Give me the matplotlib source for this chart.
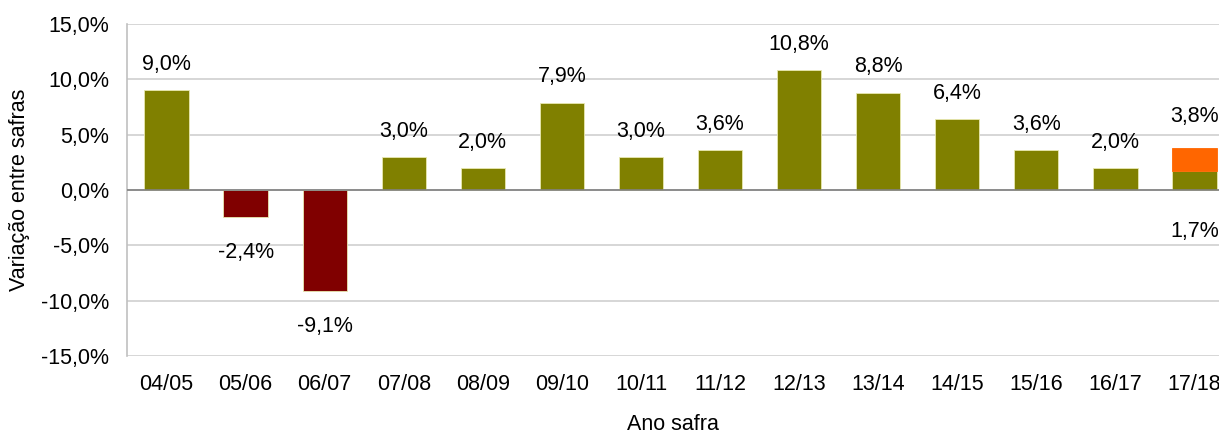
import matplotlib.pyplot as plt
import matplotlib.ticker as mticker

plt.rcParams['font.family'] = ['Liberation Sans', 'DejaVu Sans']

# data
safras = ["04/05", "05/06", "06/07", "07/08", "08/09", "09/10", "10/11",
          "11/12", "12/13", "13/14", "14/15", "15/16", "16/17", "17/18"]
variacao = [9.0, -2.4, -9.1, 3.0, 2.0, 7.9, 3.0, 3.6, 10.8, 8.8, 6.4, 3.6, 2.0, 1.7]
proj_extra = 2.1          # 17/18 upper part (1.7 -> 3.8)
proj_total = 3.8

OLIVE = "#808000"
RED = "#800000"
ORANGE = "#FF6600"
FS = 15.5

fig = plt.figure(figsize=(12.19, 4.36), dpi=100)
ax = fig.add_axes([0.1042, 0.1835, 0.8958, 0.7615])

x = list(range(len(safras)))
cores = [OLIVE if v >= 0 else RED for v in variacao]
ax.bar(x, variacao, width=0.56, color=cores, edgecolor="#e8e8b0", linewidth=0.6, zorder=3)
ax.bar(x[-1], proj_extra, bottom=variacao[-1], width=0.56, color=ORANGE,
       edgecolor=ORANGE, linewidth=0.6, zorder=3)

fmt = lambda v: f"{v:.1f}%".replace(".", ",")

# labels
for i, v in enumerate(variacao[:-1]):
    if v >= 0:
        ax.annotate(fmt(v), (i, v), xytext=(0, 11), textcoords="offset points",
                    ha="center", va="bottom", fontsize=FS)
    else:
        ax.annotate(fmt(v), (i, v), xytext=(0, -18), textcoords="offset points",
                    ha="center", va="top", fontsize=FS)
ax.annotate(fmt(proj_total), (x[-1], proj_total), xytext=(0, 15), textcoords="offset points",
            ha="center", va="bottom", fontsize=FS)
ax.annotate(fmt(variacao[-1]), (x[-1], 0), xytext=(0, -22), textcoords="offset points",
            ha="center", va="top", fontsize=FS)

ax.set_ylim(-15, 15)
ax.set_yticks(range(-15, 16, 5))
ax.yaxis.set_major_formatter(mticker.FuncFormatter(lambda v, p: fmt(v)))
ax.set_xlim(-0.5, 13.31)
ax.set_xticks(x)
ax.set_xticklabels(safras)
ax.tick_params(axis="both", length=0, labelsize=FS, colors="black")
ax.tick_params(axis="x", pad=13)
ax.tick_params(axis="y", pad=13)

ax.grid(axis="y", color="#d0d0d0", linewidth=1.2, zorder=0)
ax.axhline(0, color="#808080", linewidth=1.2, zorder=4)
for s in ["top", "right", "bottom"]:
    ax.spines[s].set_visible(False)
ax.spines["left"].set_color("#c0c0c0")
ax.spines["left"].set_linewidth(1.2)

ax.set_ylabel("Variação entre safras", fontsize=FS, labelpad=8)
ax.set_xlabel("Ano safra", fontsize=FS, labelpad=14)

fig.savefig("out.png", dpi=100)
